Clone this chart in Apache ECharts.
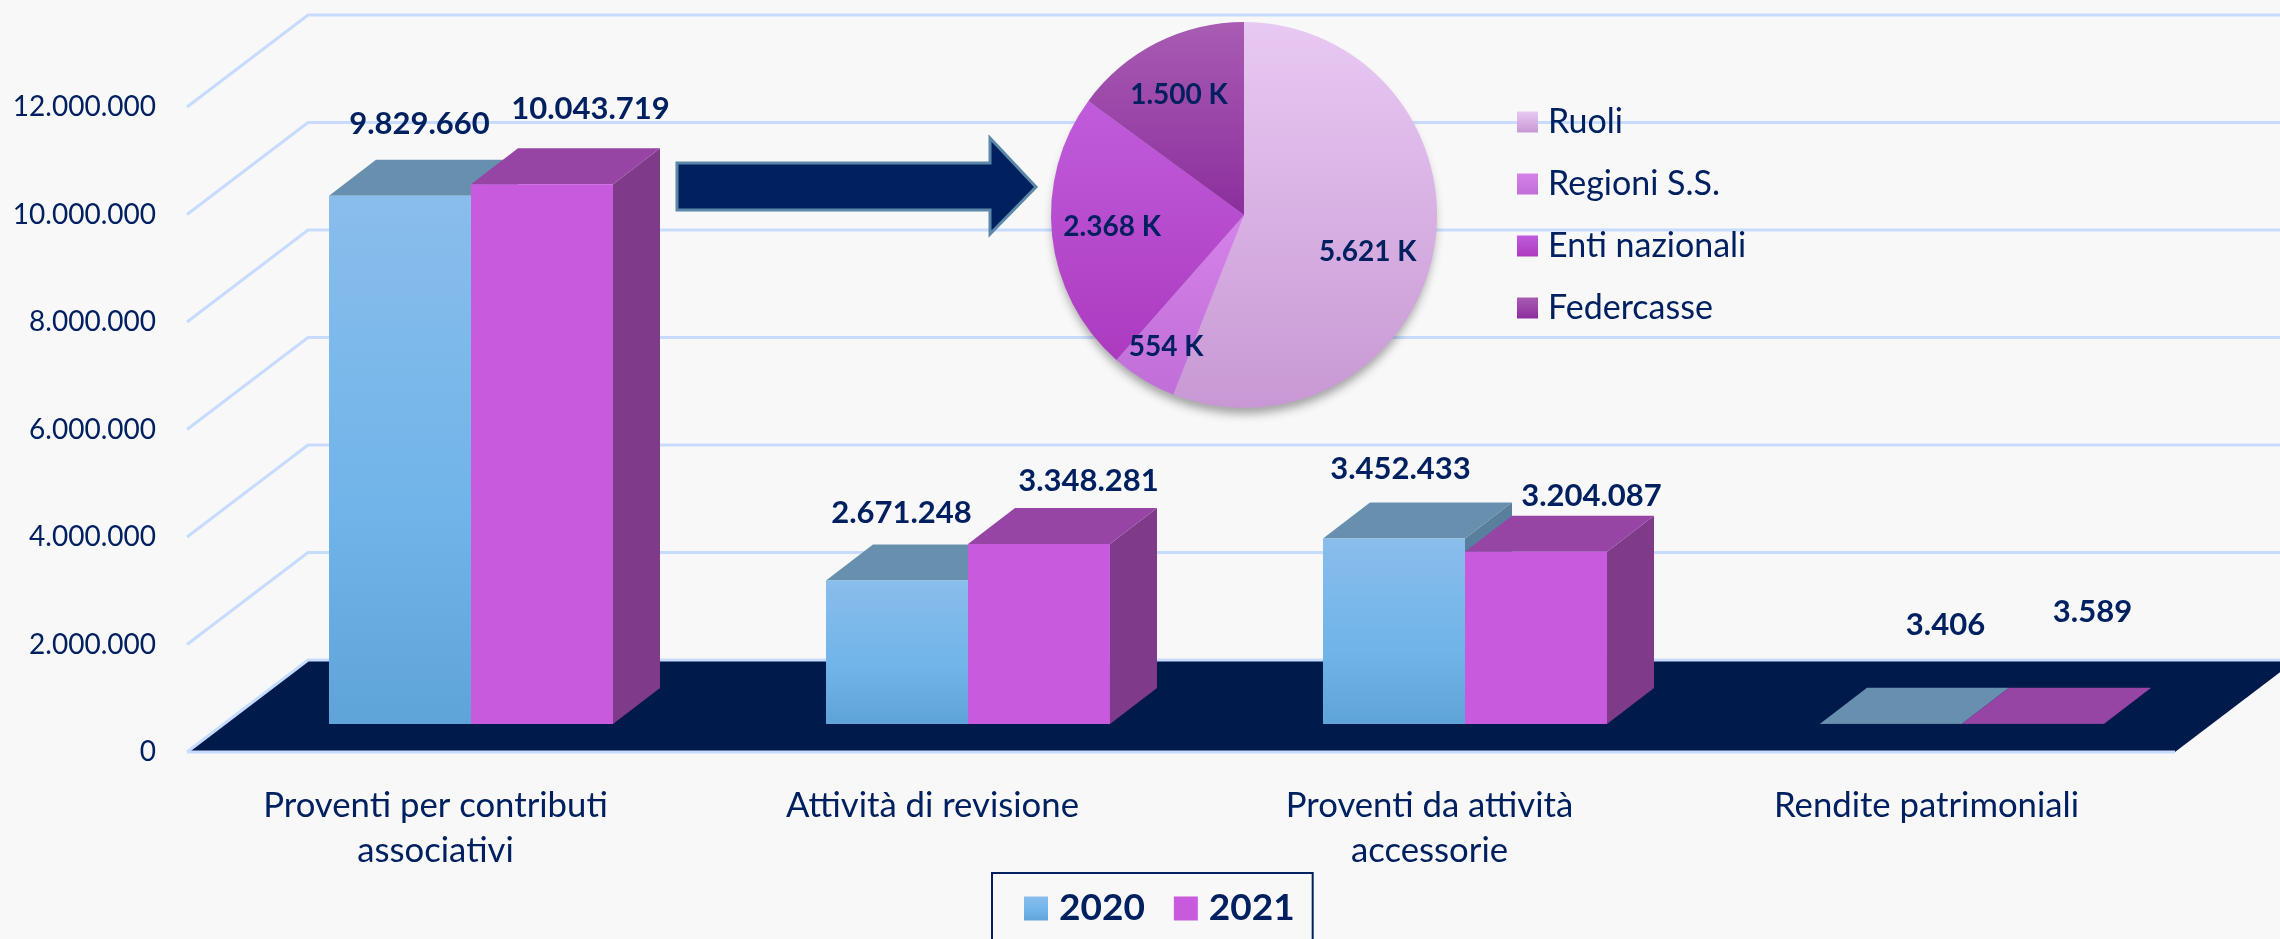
<!DOCTYPE html>
<html>
<head>
<meta charset="utf-8">
<title>Proventi 2020-2021</title>
<style>
  html, body { margin: 0; padding: 0; background: #f8f8f8; }
  #chart { width: 2280px; height: 939px; }
</style>
<script src="https://cdn.jsdelivr.net/npm/echarts@6/dist/echarts.min.js"></script>
</head>
<body>
<div id="chart"></div>
<script>
const categories = ['Proventi per contributi\nassociativi', 'Attività di revisione', 'Proventi da attività\naccessorie', 'Rendite patrimoniali']
const values2020 = [9829660, 2671248, 3452433, 3406]
const values2021 = [10043719, 3348281, 3204087, 3589]
const yTicks = [0, 2000000, 4000000, 6000000, 8000000, 10000000, 12000000]
const pieNames = ['Ruoli', 'Regioni S.S.', 'Enti nazionali', 'Federcasse']
const pieValues = [5621, 554, 2368, 1500]

const NAVY = '#002060'
const FONT = 'Lato'
// finta prospettiva: profondita del pavimento e delle barre
const FLOOR_DEPTH = [121, -92]
const BAR_INSET = [35.5, -28]
const BAR_DEPTH = [47, -36]
const BAR_RATIO = 0.2857
// spostamento delle etichette rispetto allo spigolo alto posteriore
const labelShift = [
    [[18, -36], [3, -31], [5, -33], [53, -63]],
    [[47, -39], [48, -27], [54, -20], [58, -76]]
]
const pieLabelShift = [[26, 18], [-26, 47], [-33, 1], [-20, -31]]

const fmt = (v) => String(v).replace(/\B(?=(\d{3})+(?!\d))/g, '.')
const grad = (top, bottom, mid) => new echarts.graphic.LinearGradient(0, 0, 0, 1, [
    { offset: 0, color: top },
    ...(mid ? [{ offset: 0.6, color: mid }] : []),
    { offset: 1, color: bottom }
])

const wallItem = (params, api) => {
    const size = api.size([1, 0])[0]
    const p = api.coord([0, api.value(1)])
    const x0 = p[0] - size / 2
    const x1 = x0 + size * categories.length
    const y = p[1]
    const children = []
    const line = { stroke: '#c6dbfd', lineWidth: 3, fill: null }
    if (api.value(1) === 0) {
        children.push({
            type: 'polygon',
            shape: { points: [[x0, y], [x0 + FLOOR_DEPTH[0], y + FLOOR_DEPTH[1]], [x1 + FLOOR_DEPTH[0], y + FLOOR_DEPTH[1]], [x1, y]] },
            style: { fill: '#001a4b' }
        })
        children.push({ type: 'line', shape: { x1: x0, y1: y, x2: x1, y2: y }, style: line })
    }
    children.push({
        type: 'polyline',
        shape: { points: [[x0, y], [x0 + FLOOR_DEPTH[0], y + FLOOR_DEPTH[1]], [x1 + FLOOR_DEPTH[0], y + FLOOR_DEPTH[1]]] },
        style: line
    })
    return { type: 'group', children }
}

const barItem = (serieIndex, colors) => (params, api) => {
    const cat = api.value(0)
    const val = api.value(1)
    const w = api.size([1, 0])[0] * BAR_RATIO
    const base = api.coord([cat, 0])
    const top = api.coord([cat, val])
    const x0 = base[0] + BAR_INSET[0] - w + serieIndex * w
    const x1 = x0 + w
    const yb = base[1] + BAR_INSET[1]
    const yt = top[1] + BAR_INSET[1]
    const dx = BAR_DEPTH[0]
    const dy = BAR_DEPTH[1]
    const shift = labelShift[serieIndex][params.dataIndex]
    return {
        type: 'group',
        children: [
            {
                type: 'polygon',
                shape: { points: [[x1, yb], [x1 + dx, yb + dy], [x1 + dx, yt + dy], [x1, yt]] },
                style: { fill: colors.side }
            },
            {
                type: 'polygon',
                shape: { points: [[x0, yt], [x0 + dx, yt + dy], [x1 + dx, yt + dy], [x1, yt]] },
                style: { fill: colors.top }
            },
            {
                type: 'rect',
                shape: { x: x0, y: yt, width: w, height: yb - yt },
                style: { fill: colors.front }
            },
            {
                type: 'text',
                z2: 10,
                style: {
                    text: fmt(val),
                    x: (x0 + x1) / 2 + shift[0] + 1.5,
                    y: yt + dy + shift[1],
                    align: 'center',
                    verticalAlign: 'middle',
                    fill: NAVY,
                    font: 'bold 31px ' + FONT
                }
            }
        ]
    }
}

const blue = { front: grad('#89bdec', '#5fa4d9', '#70b4e9'), top: '#6790af', side: '#587f9d' }
const purple = { front: '#c85ade', top: '#9645a5', side: '#7f3a8a' }
const pieColors = [
    grad('#e8c9f3', '#c898d4'),
    grad('#d582ea', '#c06ed8'),
    grad('#c05cdc', '#ac3ac0'),
    grad('#a85cb2', '#8c2e9e')
]

const chart = echarts.init(document.getElementById('chart'))
chart.setOption({
    backgroundColor: '#f8f8f8',
    animation: false,
    textStyle: { fontFamily: FONT },
    grid: { left: 187, top: 107, width: 1988, height: 645 },
    xAxis: {
        type: 'category',
        data: categories,
        axisLine: { show: false },
        axisTick: { show: false },
        axisLabel: { color: NAVY, fontSize: 34.7, lineHeight: 45, margin: 31 }
    },
    yAxis: {
        type: 'value',
        min: 0,
        max: 12000000,
        interval: 2000000,
        splitLine: { show: false },
        axisLine: { show: false },
        axisTick: { show: false },
        axisLabel: { color: NAVY, fontSize: 28, margin: 31, padding: [6, 0, 0, 0], formatter: fmt }
    },
    legend: [
        {
            data: ['2020', '2021'],
            left: 992,
            top: 873,
            padding: [17, 18, 30, 32],
            icon: 'rect',
            itemWidth: 24,
            itemHeight: 24,
            itemGap: 29,
            borderColor: NAVY,
            borderWidth: 2,
            selectedMode: false,
            textStyle: { color: NAVY, fontSize: 37, fontWeight: 'bold', padding: [0, 0, 0, 6] }
        },
        {
            data: pieNames,
            orient: 'vertical',
            left: 1517,
            top: 104,
            padding: 0,
            icon: 'rect',
            itemWidth: 21,
            itemHeight: 21,
            itemGap: 26,
            selectedMode: false,
            textStyle: { color: NAVY, fontSize: 34, lineHeight: 36, padding: [0, 0, 0, 5] }
        }
    ],
    graphic: [
        {
            type: 'polygon',
            z: 5,
            shape: { points: [[677, 163], [990, 163], [990, 138], [1036, 187], [990, 234], [990, 210], [677, 210]] },
            style: { fill: NAVY, stroke: '#5b87a8', lineWidth: 3 }
        }
    ],
    series: [
        {
            name: 'griglia',
            type: 'custom',
            z: 1,
            silent: true,
            renderItem: wallItem,
            encode: { x: 0, y: 1 },
            data: yTicks.map((v) => [0, v])
        },
        {
            name: '2020',
            type: 'custom',
            z: 2,
            itemStyle: { color: blue.front },
            renderItem: barItem(0, blue),
            encode: { x: 0, y: 1 },
            data: values2020.map((v, i) => [i, v])
        },
        {
            name: '2021',
            type: 'custom',
            z: 3,
            itemStyle: { color: purple.front },
            renderItem: barItem(1, purple),
            encode: { x: 0, y: 1 },
            data: values2021.map((v, i) => [i, v])
        },
        {
            // solo per l'ombra sotto la torta
            name: 'ombra',
            type: 'pie',
            z: 6,
            silent: true,
            center: [1244, 215],
            radius: 191,
            label: { show: false },
            labelLine: { show: false },
            itemStyle: { color: '#c9a4d4', shadowBlur: 10, shadowOffsetY: 8, shadowColor: 'rgba(60,60,60,0.45)' },
            data: [{ name: 'totale', value: pieValues.reduce((a, b) => a + b, 0) }]
        },
        {
            name: 'Contributi',
            type: 'pie',
            z: 7,
            center: [1244, 215],
            radius: 193,
            startAngle: 90,
            avoidLabelOverlap: false,
            label: {
                position: 'inside',
                color: NAVY,
                fontSize: 28,
                fontWeight: 'bold',
                formatter: (p) => fmt(p.value) + ' K'
            },
            labelLine: { show: false },
            labelLayout: (p) => ({ dx: pieLabelShift[p.dataIndex][0], dy: pieLabelShift[p.dataIndex][1] }),
            data: pieNames.map((name, i) => ({ name, value: pieValues[i], itemStyle: { color: pieColors[i] } }))
        }
    ]
})
</script>
</body>
</html>
